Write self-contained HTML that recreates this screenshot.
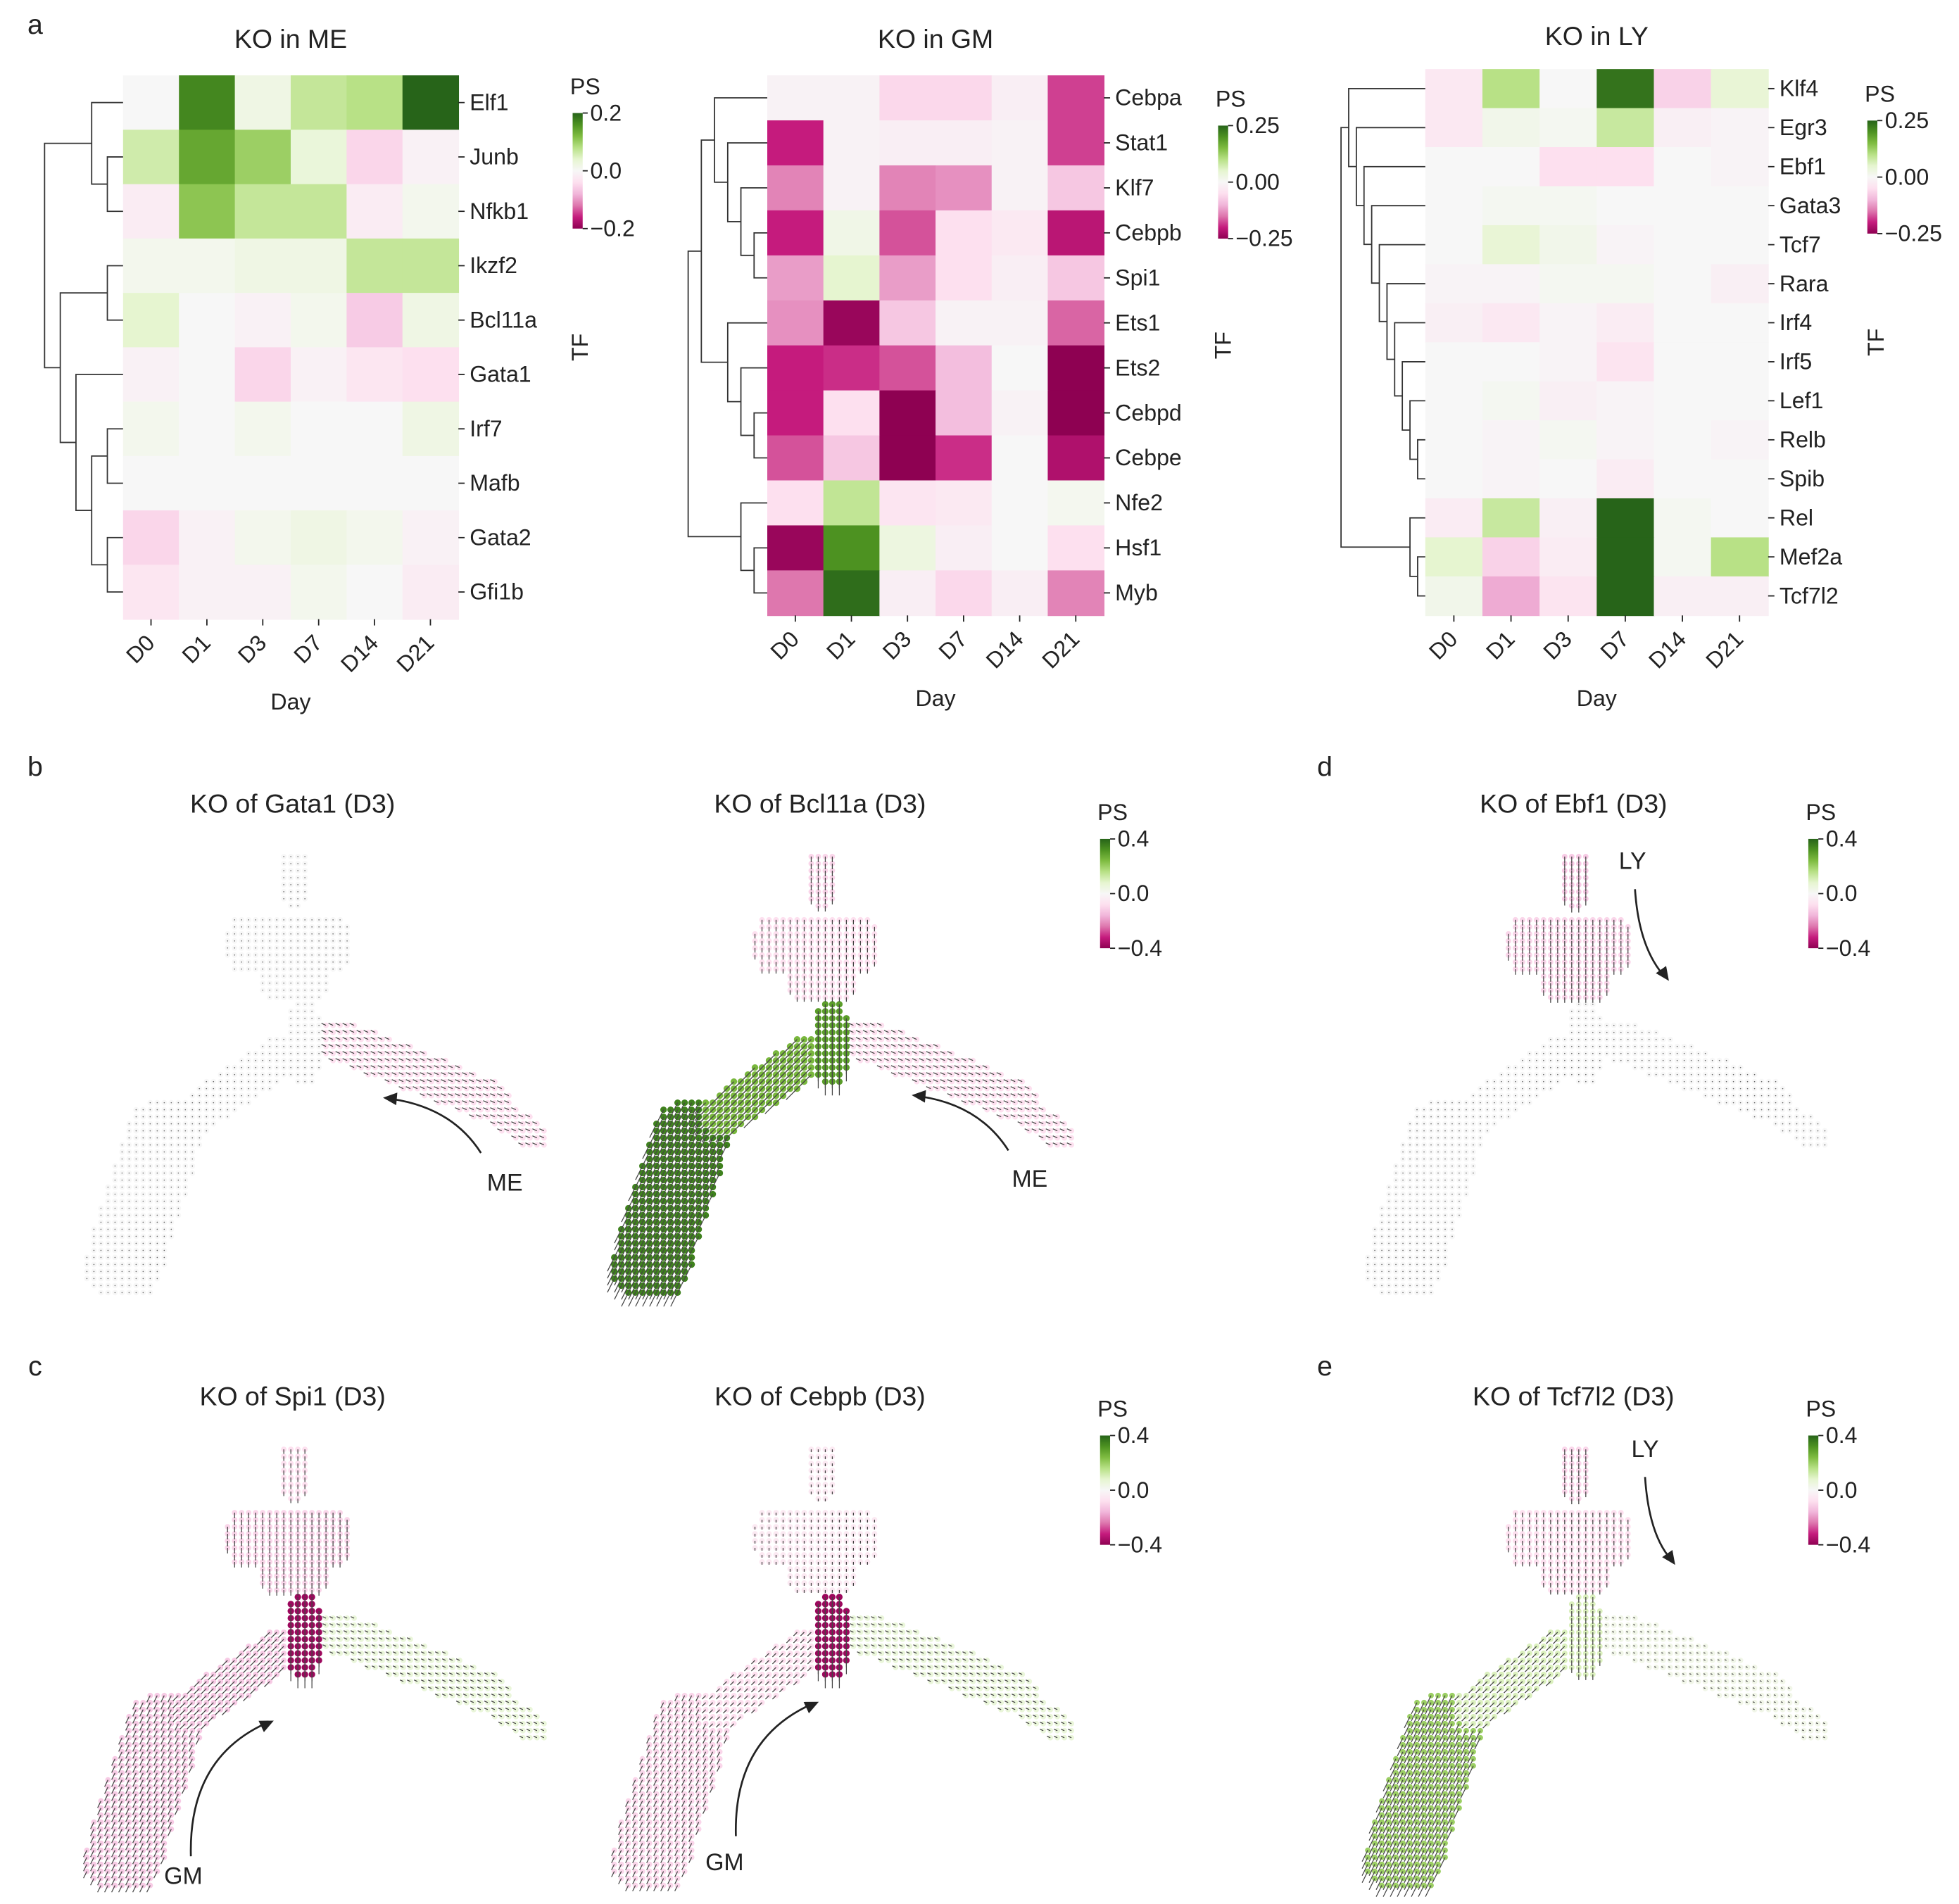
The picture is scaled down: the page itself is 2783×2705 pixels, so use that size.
<!DOCTYPE html>
<html><head><meta charset="utf-8">
<style>
html,body{margin:0;padding:0;background:#fff;}
svg{display:block;font-family:"Liberation Sans",Arial,sans-serif;}
</style></head>
<body>
<svg id="fig" width="2783" height="2705" viewBox="0 0 1560 1516" preserveAspectRatio="none" xmlns="http://www.w3.org/2000/svg"></svg>
<script>
// ---------- heatmap data ----------
const dayLabels = ["D0","D1","D3","D7","D14","D21"];
const meRows = ["Elf1","Junb","Nfkb1","Ikzf2","Bcl11a","Gata1","Irf7","Mafb","Gata2","Gfi1b"];
const meVals = [
 [0.0,0.17,0.02,0.07,0.08,0.2],
 [0.06,0.14,0.1,0.03,-0.05,-0.01],
 [-0.02,0.11,0.07,0.07,-0.02,0.01],
 [0.01,0.01,0.02,0.02,0.07,0.07],
 [0.04,0.0,-0.01,0.01,-0.06,0.02],
 [-0.01,0.0,-0.05,-0.01,-0.03,-0.04],
 [0.01,0.0,0.01,0.0,0.0,0.02],
 [0,0,0,0,0,0],
 [-0.05,-0.01,0.01,0.02,0.01,-0.01],
 [-0.03,-0.01,-0.01,0.01,0.0,-0.02]];
const gmRows = ["Cebpa","Stat1","Klf7","Cebpb","Spi1","Ets1","Ets2","Cebpd","Cebpe","Nfe2","Hsf1","Myb"];
const gmVals = [
 [-0.01,-0.01,-0.06,-0.06,-0.02,-0.18],
 [-0.2,-0.01,-0.02,-0.02,-0.01,-0.18],
 [-0.14,-0.01,-0.14,-0.13,-0.01,-0.08],
 [-0.2,0.02,-0.17,-0.05,-0.03,-0.21],
 [-0.12,0.05,-0.12,-0.05,-0.02,-0.08],
 [-0.13,-0.24,-0.08,-0.01,-0.01,-0.16],
 [-0.2,-0.19,-0.17,-0.09,0,-0.28],
 [-0.2,-0.05,-0.27,-0.09,-0.01,-0.27],
 [-0.17,-0.08,-0.27,-0.19,0,-0.22],
 [-0.05,0.09,-0.04,-0.03,0,0.01],
 [-0.24,0.2,0.03,-0.02,0,-0.05],
 [-0.15,0.24,-0.02,-0.06,-0.02,-0.14]];
const lyRows = ["Klf4","Egr3","Ebf1","Gata3","Tcf7","Rara","Irf4","Irf5","Lef1","Relb","Spib","Rel","Mef2a","Tcf7l2"];
const lyVals = [
 [-0.04,0.12,0.0,0.28,-0.08,0.05],
 [-0.04,0.02,0.01,0.1,-0.02,-0.01],
 [0,0,-0.06,-0.06,0,-0.01],
 [0,0.01,0.01,0,0,0],
 [0,0.05,0.02,-0.01,0,0],
 [-0.01,-0.01,0.01,0.01,0,-0.02],
 [-0.02,-0.04,-0.01,-0.03,0,0],
 [0,0,-0.01,-0.05,0,0],
 [0,0.01,-0.02,-0.01,0,0],
 [0,-0.01,0.01,-0.01,0,-0.01],
 [0,-0.01,0,-0.03,0,0],
 [-0.03,0.1,-0.02,0.3,0.01,0],
 [0.06,-0.08,-0.03,0.3,0.01,0.12],
 [0.02,-0.13,-0.05,0.3,-0.02,-0.02]];
const meTicks = ["0.2","0.0","\u22120.2"];
const gmTicks = ["0.25","0.00","\u22120.25"];
const lyTicks = ["0.25","0.00","\u22120.25"];
const psTicks = ["0.4","0.0","\u22120.4"];
// ---------- scatter panel PS values per region: top, upper, mid, right, leftUp, leftLow ----------
const regionNames = ["top","upper","mid","right","lu","ll"];
const psGata1  = [0,0,0,-0.08,0,0];
const psBcl11a = [-0.1,-0.08,0.3,-0.08,0.25,0.35];
const psEbf1   = [-0.12,-0.1,0,0,0,0];
const psSpi1   = [-0.08,-0.1,-0.38,0.06,-0.12,-0.12];
const psCebpb  = [-0.05,-0.05,-0.38,0.06,-0.08,-0.1];
const psTcf7l2 = [-0.1,-0.08,0.1,0.03,0.1,0.2];

const NS="http://www.w3.org/2000/svg";
const svg=document.getElementById("fig");
function mk(tag,attrs,parent){const e=document.createElementNS(NS,tag);for(const k in attrs)e.setAttribute(k,attrs[k]);(parent||svg).appendChild(e);return e;}
function txt(s,x,y,size,anchor,parent,extra){const t=mk("text",Object.assign({x:x,y:y,"font-size":size,"text-anchor":anchor||"start",fill:"#222"},extra||{}),parent);t.textContent=s;return t;}

const stops=["#8e0152","#c51b7d","#de77ae","#f1b6da","#fde0ef","#f7f7f7","#e6f5d0","#b8e186","#7fbc41","#4d9221","#276419"];
function hex(c){return [parseInt(c.slice(1,3),16),parseInt(c.slice(3,5),16),parseInt(c.slice(5,7),16)];}
function cmap(v,vmax){let t=(Math.max(-1,Math.min(1,v/vmax))+1)/2*10;const i=Math.min(9,Math.floor(t));const f=t-i;const a=hex(stops[i]),b=hex(stops[i+1]);return "rgb("+a.map((x,k)=>Math.round(x+(b[k]-x)*f)).join(",")+")";}

let gid=0;
function colorbar(x,y,h,ticks,label,parent){
  const id="g"+(gid++);
  const d=mk("defs",{},parent);const lg=mk("linearGradient",{id:id,x1:0,y1:1,x2:0,y2:0},d);
  stops.forEach((s,i)=>mk("stop",{offset:(i/10),"stop-color":s},lg));
  const g=mk("g",{},parent);
  
  
  mk("rect",{x:x,y:y,width:8,height:h,fill:"url(#"+id+")"},g);
  const lt=txt(label,x+10,y-15,18,"middle",g);
  
  
  ticks.forEach((t,i)=>{const yy=y+i*h/2;mk("line",{x1:x+8,y1:yy,x2:x+12,y2:yy,stroke:"#222","stroke-width":1},g);txt(t,x+14,yy+6,18,"start",g);});
}

function layoutTree(node,leafY,xr,scale,g){
  if(typeof node==="number")return {y:leafY[node],h:0};
  const a=layoutTree(node[0],leafY,xr,scale,g),b=layoutTree(node[1],leafY,xr,scale,g);
  const h=Math.max(a.h,b.h)+1;const x=xr-h*scale;
  const xa=xr-a.h*scale,xb=xr-b.h*scale;
  mk("path",{d:`M${xa},${a.y}H${x}V${b.y}H${xb}`,fill:"none",stroke:"#333","stroke-width":1},g);
  return {y:(a.y+b.y)/2,h:h};
}

function heatmap(o){
  const g=mk("g",{});
  
  
  const nr=o.rows.length,nc=dayLabels.length;
  const cw=(o.x1-o.x0)/nc,ch=(o.y1-o.y0)/nr;
  o.vals.forEach((row,r)=>row.forEach((v,c)=>{
    const cell=mk("rect",{x:o.x0+c*cw,y:o.y0+r*ch,width:cw+0.5,height:ch+0.5,fill:cmap(v,o.vmax)},g);
    
    
  }));
  o.rows.forEach((n,r)=>{const yy=o.y0+(r+0.5)*ch;mk("line",{x1:o.x1,y1:yy,x2:o.x1+5,y2:yy,stroke:"#222"},g);
    const t=txt(n,o.x1+9,yy+6,18,"start",g);});
  dayLabels.forEach((d,c)=>{const xx=o.x0+(c+0.5)*cw;mk("line",{x1:xx,y1:o.y1,x2:xx,y2:o.y1+5,stroke:"#222"},g);
    const t=txt(d,xx+4,o.y1+20,18,"end",g,{transform:`rotate(-45 ${xx+4} ${o.y1+20})`});});
  const tl=txt(o.title,(o.x0+o.x1)/2,o.ty,21,"middle",g);
  const xl=txt("Day",(o.x0+o.x1)/2,o.y1+72,18,"middle",g);
  const yl=txt("TF",o.tfx,(o.y0+o.y1)/2,18,"middle",g,{transform:`rotate(-90 ${o.tfx} ${(o.y0+o.y1)/2})`});
  const leafY=o.rows.map((_,r)=>o.y0+(r+0.5)*ch);
  const dg=mk("g",{},g);
  layoutTree(o.tree,leafY,o.x0,o.dscale,dg);
  colorbar(o.cbx,o.cby,o.cbh,o.ticks,"PS",g);
}

heatmap({name:"heatmap-ko-in-me",rows:meRows,vals:meVals,vmax:0.2,x0:98,x1:365,y0:60,y1:493,title:"KO in ME",ty:38,tfx:468,
  tree:[[0,[1,2]],[[3,4],[5,[[6,7],[8,9]]]]],dscale:12.5,cbx:456,cby:90,cbh:92,ticks:meTicks});
heatmap({name:"heatmap-ko-in-gm",rows:gmRows,vals:gmVals,vmax:0.25,x0:611,x1:879,y0:60,y1:490,title:"KO in GM",ty:38,tfx:980,
  tree:[[[0,[1,[2,[3,4]]]],[5,[6,[7,8]]]],[9,[10,11]]],dscale:10.5,cbx:970,cby:100,cbh:90,ticks:gmTicks});
heatmap({name:"heatmap-ko-in-ly",rows:lyRows,vals:lyVals,vmax:0.3,x0:1135,x1:1408,y0:55,y1:490,title:"KO in LY",ty:36,tfx:1500,
  tree:[[0,[1,[2,[3,[4,[5,[6,[7,[8,[9,10]]]]]]]]]],[11,[12,13]]],dscale:6.1,cbx:1487,cby:96,cbh:90,ticks:lyTicks});

// ---------- scatter / velocity panels ----------
function segDist(px,py,ax,ay,bx,by){const dx=bx-ax,dy=by-ay;let t=((px-ax)*dx+(py-ay)*dy)/(dx*dx+dy*dy);t=Math.max(0,Math.min(1,t));const qx=ax+t*dx,qy=ay+t*dy;return Math.hypot(px-qx,py-qy);}
const shapes=[
 [[[234,682,234,712,22]],[0,1]],
 [[[202,752,256,752,50],[218,782,252,782,26]],[0,1]],
 [[[242,808,242,852,24]],[0,1]],
 [[[270,828,392,878,34],[395,884,426,905,22]],[-1,-0.45]],
 [[[222,842,155,888,34]],[-0.8,0.8]],
 [[[130,905,98,1008,62]],[-0.5,1]]];
const pts=[];
for(let y=682;y<=1032;y+=5.6){for(let x=58;x<=436;x+=5.6){
  for(let r=0;r<shapes.length;r++){if(shapes[r][0].some(s=>segDist(x,y,s[0],s[1],s[2],s[3])<=s[4]/2)){pts.push([x,y,r]);break;}}
}}
function scatter(name,ox,oy,ps,title){
  const g=mk("g",{transform:`translate(${ox},${oy})`});
  
  
  pts.forEach(p=>{const v=ps[p[2]];
    const c=mk("circle",{cx:p[0],cy:p[1],r:Math.abs(v)>0.2?2.6:2.2,fill:cmap(v,0.4)},g);
    
    
  });
  const ag=mk("g",{stroke:"#444","stroke-width":0.7},g);
  pts.forEach(p=>{const v=ps[p[2]];const d=shapes[p[2]][1];const L=Math.min(11,Math.abs(v)*45);
    if(L<1){mk("circle",{cx:p[0],cy:p[1],r:0.45,fill:"#666",stroke:"none"},ag);return;}
    mk("line",{x1:p[0],y1:p[1],x2:p[0]+d[0]*L,y2:p[1]+d[1]*L},ag);});
  const t=txt(title,233,647,21,"middle",g);
  
  
}
function curveArrow(d,hx,hy,ang){const g=mk("g",{});
  mk("path",{d:d,fill:"none",stroke:"#222","stroke-width":1.5},g);
  mk("path",{d:"M0,0L-11,-5L-11,5Z",fill:"#222",transform:`translate(${hx},${hy}) rotate(${ang})`},g);}
function label(s,x,y,size,name){const t=txt(s,x,y,size||19,"middle");}

scatter("panel-ko-gata1",0,0,psGata1,"KO of Gata1 (D3)");
scatter("panel-ko-bcl11a",420,0,psBcl11a,"KO of Bcl11a (D3)");
scatter("panel-ko-ebf1",1020,0,psEbf1,"KO of Ebf1 (D3)");
scatter("panel-ko-spi1",0,472,psSpi1,"KO of Spi1 (D3)");
scatter("panel-ko-cebpb",420,472,psCebpb,"KO of Cebpb (D3)");
scatter("panel-ko-tcf7l2",1020,472,psTcf7l2,"KO of Tcf7l2 (D3)");

colorbar(876,668,87,psTicks,"PS",svg);
colorbar(1440,668,87,psTicks,"PS",svg);
colorbar(876,1143,87,psTicks,"PS",svg);
colorbar(1440,1143,87,psTicks,"PS",svg);

curveArrow("M383,918 Q360,882 312,875",305,874,185);
label("ME",402,948,19,"lineage-label-me");
curveArrow("M803,916 Q780,880 733,873",726,872,185);
label("ME",820,945,19,"lineage-label-me");
curveArrow("M152,1478 Q150,1400 212,1372",218,1370,-25);
label("GM",146,1500,19,"lineage-label-gm");
curveArrow("M586,1462 Q584,1385 646,1357",652,1355,-25);
label("GM",577,1489,19,"lineage-label-gm");
curveArrow("M1302,708 Q1305,755 1326,778",1329,781,55);
label("LY",1300,692,19,"lineage-label-ly");
curveArrow("M1310,1176 Q1313,1222 1331,1242",1334,1246,55);
label("LY",1310,1160,19,"lineage-label-ly");

[["a",28,27],["b",28,618],["c",28,1095],["d",1055,618],["e",1055,1095]].forEach(p=>{
  const t=txt(p[0],p[1],p[2],22,"middle");});
</script>
</body></html>
